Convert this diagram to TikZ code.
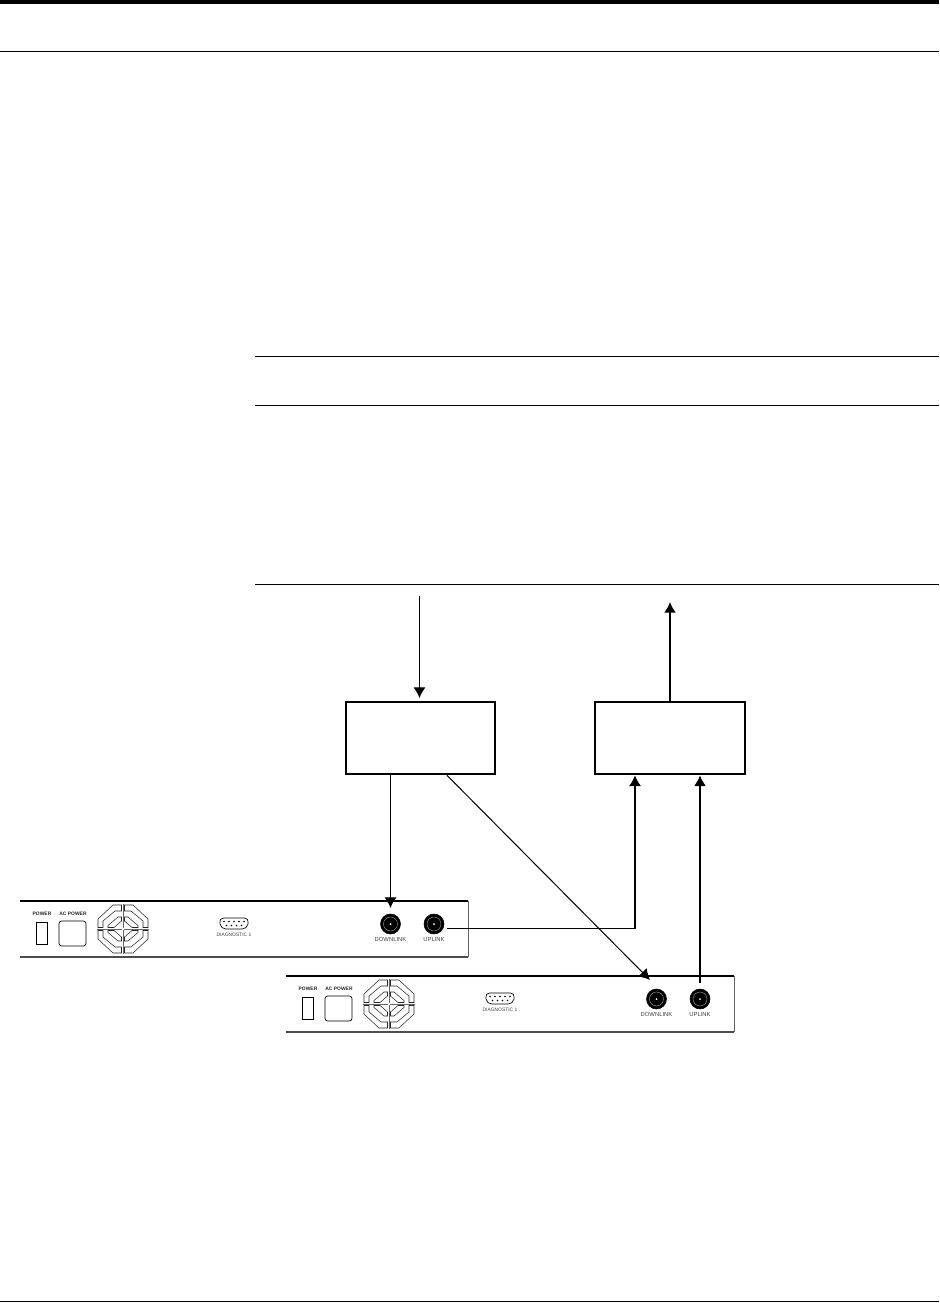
\documentclass[tikz,border=0pt]{standalone}
\usepackage{fontspec}
\setmainfont{Liberation Sans}
\usetikzlibrary{arrows.meta,calc,positioning}

\tikzset{
    hubbox/.style={draw, line width=1.5pt, minimum width=112pt, minimum height=54.5pt, inner sep=0pt},
    jack/.style={circle, fill=black, draw=black, minimum size=15pt, inner sep=0pt},
    panellabel/.style={font=\fontsize{4.4}{5}\selectfont, text=black!75, inner sep=0pt},
    diaglabel/.style={font=\fontsize{3.7}{5}\selectfont, text=black!75, inner sep=0pt},
    boldlabel/.style={font=\fontsize{3.7}{5}\selectfont\bfseries, text=black!85, inner sep=0pt},
    thinsig/.style={-{Latex[length=8pt,width=9pt]}, line width=0.75pt},
    thicksig/.style={-{Latex[length=8pt,width=9pt]}, line width=1.4pt},
    rulebar/.style={line width=0.75pt},
    % rear panel of one unit, origin at its top left corner
    chassis/.pic={
        \draw[black!60, line width=0.6pt] (448,0) -- (448,56);
        \draw[line width=1pt] (0,0) -- (448,0);
        \draw[black!70, line width=1pt] (0,56) -- (448,56);
        % Power switch and inlet
        \node[boldlabel] at (22,12.5) {POWER};
        \draw[line width=0.5pt] (16,21) rectangle (27,43);
        \node[boldlabel] at (53,12.5) {AC POWER};
        \draw[line width=0.5pt, rounded corners=2pt] (39,20) rectangle (66,45);
        % Fan guard
        \foreach \sx/\sy in {1/1,-1/1,1/-1,-1/-1} {
            \begin{scope}[shift={(103,28)}, xscale=\sx, yscale=\sy, line width=0.4pt, black!85]
                \draw (1.5,-24) -- (10,-24) -- (25,-10) -- (25,-1.5) -- (20,-1.5) -- (20,-8) -- (8,-18) -- (1.5,-18) -- cycle;
                \draw (1.5,-12) -- (5,-12) -- (15,-3.5) -- (15,-1.5) -- (9,-1.5) -- (1.5,-8) -- cycle;
                \draw[black!60] (0,-1) -- (0,-25) (1,0) -- (26,0);
            \end{scope}
        }
        % Diagnostic port
        \draw[line width=0.5pt, rounded corners=3.5pt] (199,17) -- (229,17) -- (227,28) -- (201,28) -- cycle;
        \foreach \x in {204,209,...,224} {
            \fill (\x,20.5) circle (0.8);
        }
        \foreach \x in {206.5,211.5,...,221.5} {
            \fill (\x,24.5) circle (0.8);
        }
        \node[diaglabel] at (214,34) {DIAGNOSTIC 1};
        % RF ports
        \node[jack] (down) at (370.5,23) {};
        \node[jack] (up) at (414,23) {};
        \foreach \n in {down,up} {
            \draw[white!70!black, line width=0.25pt] (\n) circle (7);
            \fill[white] (\n) circle (1);
        }
        \node[panellabel, below=2.5pt of down] (downtext) {DOWNLINK};
        \node[panellabel, below=2.5pt of up] (uptext) {UPLINK};
        \coordinate (upout) at (427,27.5);
        \coordinate (downin) at (370.5,7);
        \coordinate (upin) at (414,7);
        \coordinate (downdiag) at (364,4);
    }
}

\begin{document}
\begin{tikzpicture}[x=0.75pt, y=-0.75pt]
    \useasboundingbox (0,0) rectangle (939,1303);
    % Page furniture
    \fill (0,0) rectangle (939,4);
    \draw[rulebar] (0,51) -- (939,51);
    \foreach \y in {356,405,584} {
        \draw[rulebar] (255,\y) -- (939,\y);
    }
    \draw[rulebar] (0,1301) -- (939,1301);
    % Boxes
    \node[hubbox] (leftbox) at (420.5,738) {};
    \node[hubbox] (rightbox) at (670,738) {};
    % Units
    \pic (unita) at (20,901) {chassis};
    \pic (unitb) at (286,976) {chassis};
    % Free ends
    \coordinate (infeed) at (419.5,596);
    \coordinate[above=74pt of rightbox.north] (outfeed);
    % Connectors
    \draw[thinsig, shorten >=2pt] (infeed) -- (infeed |- leftbox.north);
    \draw[thicksig] (rightbox.north) -- (outfeed);
    \draw[thinsig] (leftbox.south -| unitadownin) -- (unitadownin);
    \draw[thinsig] ($(leftbox.south)+(26.5,0)$) -- (unitbdowndiag);
    \draw[thinsig, line width=1pt] (unitaupout) -| ($(rightbox.south)+(-35,0)$);
    \draw[thicksig] (unitbupin) -- (unitbupin |- rightbox.south);
\end{tikzpicture}
\end{document}
